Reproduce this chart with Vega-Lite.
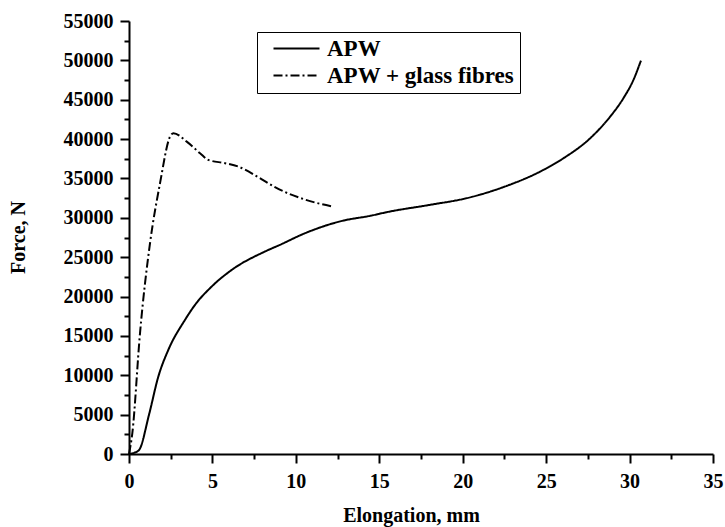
{
  "$schema": "https://vega.github.io/schema/vega-lite/v6.json",
  "width": 584,
  "height": 433,
  "autosize": "none",
  "padding": {"left": 129, "top": 21, "right": 12, "bottom": 73},
  "background": "white",
  "config": {"view": {"stroke": null}, "font": "Liberation Serif"},
  "data": {"values": [
    {"series": "APW", "elong": 0, "force": 0},
    {"series": "APW", "elong": 0.3, "force": 150},
    {"series": "APW", "elong": 0.6, "force": 500},
    {"series": "APW", "elong": 1.2, "force": 5000},
    {"series": "APW", "elong": 1.76, "force": 9850},
    {"series": "APW", "elong": 2.36, "force": 13240},
    {"series": "APW", "elong": 3.36, "force": 17050},
    {"series": "APW", "elong": 3.96, "force": 18950},
    {"series": "APW", "elong": 4.96, "force": 21280},
    {"series": "APW", "elong": 6.16, "force": 23390},
    {"series": "APW", "elong": 8.15, "force": 25720},
    {"series": "APW", "elong": 9.05, "force": 26570},
    {"series": "APW", "elong": 10.5, "force": 28000},
    {"series": "APW", "elong": 12.85, "force": 29650},
    {"series": "APW", "elong": 14.45, "force": 30250},
    {"series": "APW", "elong": 15.45, "force": 30720},
    {"series": "APW", "elong": 18.05, "force": 31650},
    {"series": "APW", "elong": 20.25, "force": 32500},
    {"series": "APW", "elong": 22.5, "force": 33950},
    {"series": "APW", "elong": 24.64, "force": 35870},
    {"series": "APW", "elong": 26.04, "force": 37570},
    {"series": "APW", "elong": 27.64, "force": 40110},
    {"series": "APW", "elong": 28.84, "force": 42860},
    {"series": "APW", "elong": 29.63, "force": 45190},
    {"series": "APW", "elong": 30.23, "force": 47510},
    {"series": "APW", "elong": 30.68, "force": 49960},
    {"series": "APW + glass fibres", "elong": 0, "force": 0},
    {"series": "APW + glass fibres", "elong": 0.2, "force": 2665},
    {"series": "APW + glass fibres", "elong": 0.66, "force": 15360},
    {"series": "APW + glass fibres", "elong": 1.26, "force": 26780},
    {"series": "APW + glass fibres", "elong": 1.86, "force": 34400},
    {"series": "APW + glass fibres", "elong": 2.46, "force": 40320},
    {"series": "APW + glass fibres", "elong": 2.66, "force": 40750},
    {"series": "APW + glass fibres", "elong": 3.46, "force": 39680},
    {"series": "APW + glass fibres", "elong": 4.26, "force": 38200},
    {"series": "APW + glass fibres", "elong": 4.75, "force": 37360},
    {"series": "APW + glass fibres", "elong": 5.76, "force": 36940},
    {"series": "APW + glass fibres", "elong": 6.55, "force": 36510},
    {"series": "APW + glass fibres", "elong": 7.75, "force": 35160},
    {"series": "APW + glass fibres", "elong": 8.75, "force": 33890},
    {"series": "APW + glass fibres", "elong": 10.6, "force": 32280},
    {"series": "APW + glass fibres", "elong": 12.21, "force": 31430}
  ]},
  "resolve": {"axis": {"x": "independent", "y": "independent"}},
  "layer": [
    {
      "mark": {"type": "line", "opacity": 0},
      "encoding": {
        "x": {
          "field": "elong", "type": "quantitative",
          "scale": {"domain": [0, 35], "nice": false},
          "axis": {
            "orient": "bottom", "title": null, "labels": false, "domain": false, "grid": false,
            "values": [2.5, 7.5, 12.5, 17.5, 22.5, 27.5, 32.5],
            "tickSize": 5, "tickWidth": 2, "tickColor": "black"
          }
        },
        "y": {
          "field": "force", "type": "quantitative",
          "scale": {"domain": [0, 55000], "nice": false},
          "axis": {
            "orient": "left", "title": null, "labels": false, "domain": false, "grid": false,
            "values": [2500, 7500, 12500, 17500, 22500, 27500, 32500, 37500, 42500, 47500, 52500],
            "tickSize": 5, "tickWidth": 2, "tickColor": "black"
          }
        }
      }
    },
    {
      "mark": {"type": "line", "color": "black", "strokeWidth": 2, "interpolate": "monotone"},
      "encoding": {
        "x": {
          "field": "elong", "type": "quantitative",
          "scale": {"domain": [0, 35], "nice": false},
          "axis": {
            "orient": "bottom",
            "title": "Elongation, mm",
            "values": [0, 5, 10, 15, 20, 25, 30, 35],
            "tickSize": 9, "tickWidth": 2, "tickColor": "black",
            "domainWidth": 2, "domainColor": "black",
            "grid": false,
            "labelFont": "Liberation Serif", "labelFontWeight": "bold", "labelFontSize": 20, "labelColor": "black",
            "labelPadding": 8, "labelFlush": false, "labelOverlap": false,
            "titleFont": "Liberation Serif", "titleFontWeight": "bold", "titleFontSize": 20, "titleColor": "black",
            "titleX": 282, "titleY": 61, "titleBaseline": "middle", "titleAnchor": "middle"
          }
        },
        "y": {
          "field": "force", "type": "quantitative",
          "scale": {"domain": [0, 55000], "nice": false},
          "axis": {
            "orient": "left",
            "title": "Force, N",
            "values": [0, 5000, 10000, 15000, 20000, 25000, 30000, 35000, 40000, 45000, 50000, 55000],
            "format": "d",
            "tickSize": 9, "tickWidth": 2, "tickColor": "black",
            "domainWidth": 2, "domainColor": "black",
            "grid": false,
            "labelFont": "Liberation Serif", "labelFontWeight": "bold", "labelFontSize": 20, "labelColor": "black",
            "labelPadding": 7, "labelFlush": false, "labelOverlap": false,
            "titleFont": "Liberation Serif", "titleFontWeight": "bold", "titleFontSize": 20, "titleColor": "black",
            "titleX": -111, "titleY": 216, "titleAngle": -90, "titleBaseline": "middle", "titleAnchor": "middle"
          }
        },
        "strokeDash": {
          "field": "series", "type": "nominal",
          "scale": {"domain": ["APW", "APW + glass fibres"], "range": [[1, 0], [9, 3, 2, 3]]},
          "legend": {
            "title": null,
            "orient": "none", "legendX": 128, "legendY": 11,
            "fillColor": "white", "strokeColor": "black",
            "padding": 5,
            "symbolType": "M-2.3,0H2.3", "symbolSize": 400, "symbolStrokeWidth": 2, "symbolStrokeColor": "black",
            "symbolFillColor": "transparent",
            "symbolOffset": 23,
            "labelFont": "Liberation Serif", "labelFontWeight": "bold", "labelFontSize": 23, "labelColor": "black",
            "labelOffset": 19, "labelLimit": 400, "rowPadding": 3
          }
        }
      }
    }
  ]
}
